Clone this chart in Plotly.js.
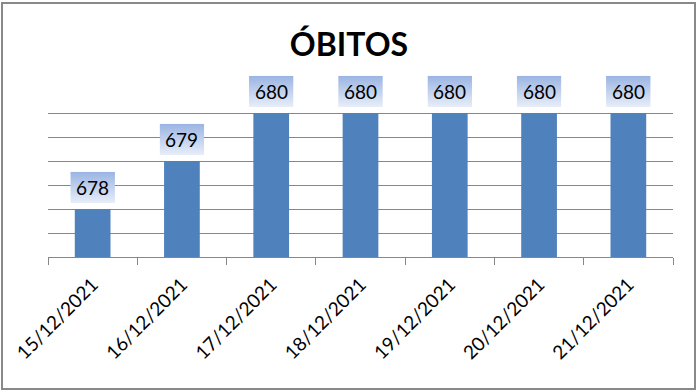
<!DOCTYPE html>
<html>
<head>
<meta charset="utf-8">
<script src="https://cdn.plot.ly/plotly-3.0.1.min.js"></script>
<style>
html,body{margin:0;padding:0;background:#fff;}
#wrap{position:relative;width:698px;height:391px;}
#chart{width:698px;height:391px;}
#frame{position:absolute;left:1px;top:2px;width:691px;height:384px;border:2px solid #898989;pointer-events:none;}
</style>
</head>
<body>
<div id="wrap"><div id="chart"></div><div id="frame"></div></div>
<script>
const categories = ["15/12/2021","16/12/2021","17/12/2021","18/12/2021","19/12/2021","20/12/2021","21/12/2021"];
const obitos = [678, 679, 680, 680, 680, 680, 680];
const chartTitle = "ÓBITOS";

const yMin = 677, yMax = 680.5;
const labelGap = 0.125, boxH = 0.65;

const gradSvg = 'data:image/svg+xml;utf8,' + encodeURIComponent(
  '<svg xmlns="http://www.w3.org/2000/svg" width="45" height="31" preserveAspectRatio="none" viewBox="0 0 45 31">' +
  '<defs><linearGradient id="g" x1="0" y1="0" x2="0" y2="1">' +
  '<stop offset="0" stop-color="#9ab4e2"/><stop offset="1" stop-color="#e8eef9"/></linearGradient></defs>' +
  '<rect width="45" height="31" fill="url(#g)"/></svg>');

const toPy = v => (v - yMin) / (yMax - yMin);
const n = categories.length;

const images = categories.map((c, i) => ({
  source: gradSvg, xref: 'paper', yref: 'paper',
  x: (i + 0.5) / n, y: toPy(obitos[i] + labelGap),
  sizex: 0.5 / n, sizey: boxH / (yMax - yMin), xanchor: 'center', yanchor: 'bottom',
  sizing: 'stretch', layer: 'above'
}));

const annotations = categories.map((c, i) => ({
  x: (i + 0.5) / n, y: toPy(obitos[i] + labelGap + boxH / 2), xref: 'paper', yref: 'paper',
  text: String(obitos[i]), showarrow: false,
  font: {family: 'Lato, "Open Sans", sans-serif', size: 19, color: '#000'},
  xanchor: 'center', yanchor: 'middle'
}));

const trace = {
  type: 'bar', x: categories, y: obitos,
  marker: {color: '#4f81bd'}, hoverinfo: 'none'
};

const layout = {
  width: 698, height: 391,
  margin: {l: 48, r: 25, t: 89, b: 134},
  paper_bgcolor: '#fff', plot_bgcolor: '#fff',
  bargap: 0.6,
  showlegend: false,
  title: {text: '<b>' + chartTitle + '</b>', x: 0.5, xanchor: 'center', y: 0.885, yanchor: 'middle',
          font: {family: 'Lato, "Open Sans", sans-serif', size: 32, color: '#000'}},
  xaxis: {
    type: 'category', tickangle: -45, showgrid: false,
    showline: true, linecolor: '#878787', linewidth: 1,
    ticks: 'outside', tickson: 'boundaries', ticklen: 7, tickcolor: '#878787',
    ticklabelstandoff: 8,
    tickfont: {family: 'Lato, "Open Sans", sans-serif', size: 19, color: '#000'},
    fixedrange: true
  },
  yaxis: {
    range: [yMin, yMax], dtick: 0.5, tick0: yMin,
    showticklabels: false, showgrid: true, gridcolor: '#878787', gridwidth: 1,
    zeroline: false, showline: false, ticks: '', fixedrange: true
  },
  images: images,
  annotations: annotations
};

Plotly.newPlot('chart', [trace], layout, {displayModeBar: false, staticPlot: true});
</script>
</body>
</html>
